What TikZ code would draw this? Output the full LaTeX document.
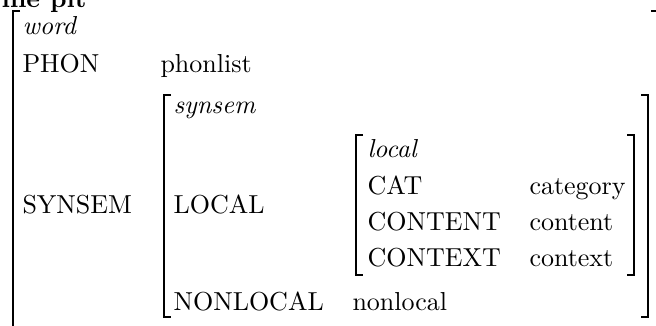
\documentclass[tikz,border=0pt]{standalone}
\usepackage{tikz}
\usetikzlibrary{positioning}

\begin{document}
\begin{tikzpicture}[
    x=0.3846pt, y=-0.3846pt,
    feat/.style={
        anchor=base west, inner sep=0pt, font=\normalsize
    },
    atype/.style={
        feat, font=\itshape
    },
    brak/.style={
        line width=0.75pt, draw=black
    }
]
\useasboundingbox (0,0) rectangle (656,325);
\clip (0,0) rectangle (656,325);

% Title (cut at the top)
\node[feat, font=\bfseries] (title) at (1, 7) {me pit};

% Outer matrix: word
\draw[brak] (20,11) -- (13,11) -- (13,345);
\draw[brak] (651,11) -- (658,11) -- (658,345);
\node[atype] (word) at (22, 34) {word};
\node[feat] (phon) at (22, 72) {PHON};
\node[feat] (phonval) at (160, 72) {phonlist};
\node[feat] (synsem) at (22, 213) {SYNSEM};

% Middle matrix: synsem
\draw[brak] (171,95) -- (164,95) -- (164,317) -- (171,317);
\draw[brak] (641,95) -- (648,95) -- (648,317) -- (641,317);
\node[atype] (synsemtype) at (173, 113) {synsem};
\node[feat] (local) at (173, 213) {LOCAL};
\node[feat] (nonlocal) at (173, 310) {NONLOCAL};
\node[feat] (nonlocalval) at (352, 310) {nonlocal};

% Inner matrix: local
\draw[brak] (363,135) -- (356,135) -- (356,275) -- (363,275);
\draw[brak] (627,135) -- (634,135) -- (634,275) -- (627,275);
\node[atype] (localtype) at (367, 157) {local};
\node[feat] (cat) at (367, 194) {CAT};
\node[feat] (catval) at (529, 194) {category};
\node[feat] (content) at (367, 230) {CONTENT};
\node[feat] (contentval) at (529, 230) {content};
\node[feat] (context) at (367, 266) {CONTEXT};
\node[feat] (contextval) at (529, 266) {context};

\end{tikzpicture}
\end{document}
